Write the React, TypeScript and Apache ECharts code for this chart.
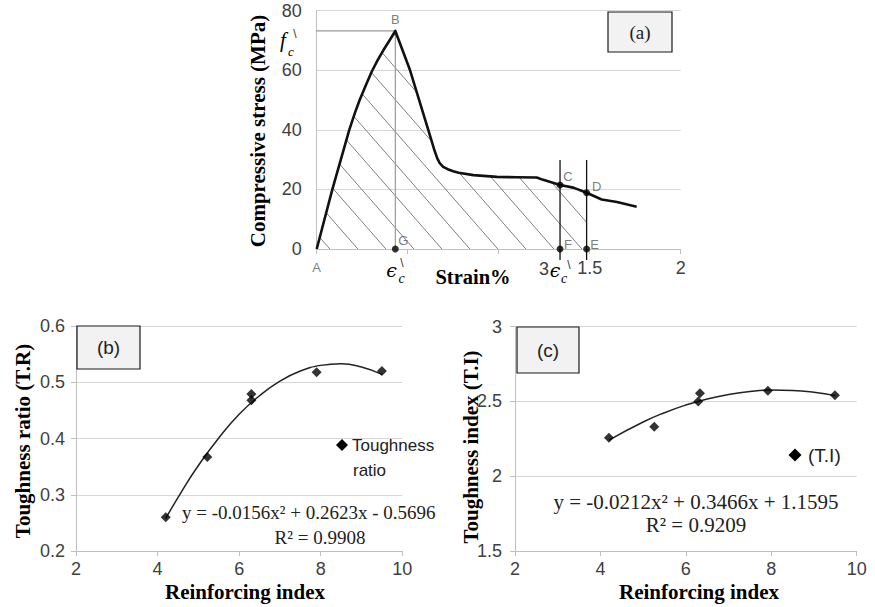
import React, { useEffect, useRef } from "react";
import * as echarts from "echarts";

// ---------- Panel (a): stress-strain curve ----------
const strainPts = [0, 0.086, 0.179, 0.21, 0.236, 0.27, 0.302, 0.335, 0.366, 0.4, 0.432, 0.513, 0.613, 0.645, 0.662, 0.676, 0.695, 0.72, 0.75, 0.78, 0.861, 0.99, 1.1, 1.209, 1.24, 1.337, 1.41, 1.483, 1.566, 1.65, 1.758];
const stressPts = [0, 20, 40, 45.7, 50, 55, 59.5, 63.4, 66.7, 70, 73.2, 60, 40, 33.5, 30.5, 28.8, 27.6, 26.8, 26.1, 25.6, 24.8, 24.2, 24.1, 24, 23.3, 21.5, 20.6, 18.9, 16.6, 15.8, 14.2];
const hatchEndStrain = 1.483;
const pointNames = ["G", "F", "E", "C", "D"];
const pointStrain = [0.432, 1.337, 1.483, 1.337, 1.483];
const pointStress = [0, 0, 0, 21.5, 18.9];
const peakStrain = 0.432;
const peakStress = 73.2;
const fcLineStartStrain = -0.064;
const guideLow = -3.7;
const guideHigh = 29.9;
const strainTickLabels = ["1.5", "2"];

// ---------- Panel (b): toughness ratio ----------
const riB = [4.2, 5.22, 6.3, 6.3, 7.9, 9.5];
const toughRatio = [0.26, 0.367, 0.479, 0.468, 0.518, 0.52];
const trendBX = [4.2, 4.6, 5, 5.5, 6, 6.5, 7, 7.5, 8, 8.5, 9, 9.5];
const trendBY = [0.258, 0.307, 0.352, 0.401, 0.443, 0.476, 0.502, 0.52, 0.53, 0.533, 0.527, 0.514];

// ---------- Panel (c): toughness index ----------
const riC = [4.2, 5.26, 6.33, 6.29, 7.92, 9.49];
const toughIndex = [2.258, 2.331, 2.555, 2.5, 2.572, 2.541];
const trendCX = [4.2, 5, 5.5, 6, 6.5, 7, 7.5, 8, 8.5, 9, 9.5];
const trendCY = [2.242, 2.363, 2.425, 2.476, 2.517, 2.547, 2.567, 2.576, 2.574, 2.562, 2.539];

const SANS = '"Liberation Sans", Arial, sans-serif';
const SERIF = '"Liberation Serif", "Times New Roman", serif';
const GRID = "#d6d6d6";
const AXIS = "#bfbfbf";
const TICK_TXT = "#404040";

function hatchPattern() {
  const w = 28;
  const h = 32;
  const cv = document.createElement("canvas");
  cv.width = w;
  cv.height = h;
  const ctx = cv.getContext("2d");
  if (ctx) {
    ctx.strokeStyle = "#808080";
    ctx.lineWidth = 1;
    for (const k of [-w, 0, w]) {
      ctx.beginPath();
      ctx.moveTo(k, 0);
      ctx.lineTo(k + w, h);
      ctx.stroke();
    }
  }
  return { image: cv, repeat: "repeat", imageWidth: w, imageHeight: h };
}

function txt(x: number, y: number, text: string, size: number, o: any = {}) {
  const align = o.align ?? "center";
  return {
    type: "text",
    x,
    y,
    rotation: o.rotation ?? 0,
    silent: true,
    z: 100,
    style: {
      text,
      fontSize: size,
      fontFamily: o.family ?? SERIF,
      fontWeight: o.weight ?? "normal",
      fontStyle: o.italic ? "italic" : "normal",
      fill: o.color ?? "#000",
      align,
      textAlign: align,
      verticalAlign: "middle",
      textVerticalAlign: "middle",
    },
  };
}

function box(x: number, y: number, w: number, h: number, label: string, family: string) {
  return [
    { type: "rect", shape: { x, y, width: w, height: h }, style: { fill: "#f2f2f2", stroke: "#1a1a1a", lineWidth: 1.2 }, z: 90 },
    txt(x + w / 2, y + h / 2, label, 19, { color: "#222", family }),
  ];
}

function diamond(cx: number, cy: number, r: number) {
  return {
    type: "polygon",
    shape: { points: [[cx, cy - r], [cx + r, cy], [cx, cy + r], [cx - r, cy]] },
    style: { fill: "#000" },
    z: 95,
  };
}

function valAxis(gridIndex: number, min: number, max: number, interval: number, extra: any = {}) {
  return {
    type: "value",
    gridIndex,
    min,
    max,
    interval,
    axisLine: { show: true, lineStyle: { color: AXIS, width: 1 } },
    axisTick: { show: true, length: 5, lineStyle: { color: AXIS } },
    splitLine: { show: false },
    axisLabel: { fontSize: 18, fontFamily: SANS, color: TICK_TXT, ...(extra.axisLabel || {}) },
    ...extra.rest,
  };
}

function buildOption() {
  const curve = strainPts.map((x, i) => [x, stressPts[i]]);
  const hatch = curve.filter((p) => p[0] <= hatchEndStrain);
  const line2 = (a: number[], b: number[], color: string, width: number) => ({
    type: "line",
    xAxisIndex: 0,
    yAxisIndex: 0,
    data: [a, b],
    symbol: "none",
    clip: false,
    silent: true,
    lineStyle: { color, width },
    z: 3,
  });
  const labelOffsets: Record<string, number[]> = {
    G: [8, -9],
    F: [8, -5],
    E: [8, -5],
    C: [8, -8],
    D: [10, -6],
  };
  const letterLabel = (text: string, offset: number[]) => ({
    show: true,
    formatter: text,
    position: "inside",
    offset,
    fontSize: 13,
    fontFamily: SANS,
    color: "#595959",
  });
  const trPts = riB.map((x, i) => [x, toughRatio[i]]);
  const tiPts = riC.map((x, i) => [x, toughIndex[i]]);

  return {
    animation: false,
    backgroundColor: "#fff",
    grid: [
      { left: 316.7, top: 10.7, width: 364, height: 238.3, outerBoundsMode: "none" },
      { left: 76, top: 326, width: 326.3, height: 225, outerBoundsMode: "none" },
      { left: 515, top: 326.7, width: 341.7, height: 224.3, outerBoundsMode: "none" },
    ],
    xAxis: [
      valAxis(0, 0, 2, 0.5, {
        axisLabel: {
          margin: 10,
          formatter: (v: number) => (strainTickLabels.includes(String(v)) ? String(v) : ""),
        },
      }),
      valAxis(1, 2, 10, 2, { axisLabel: { margin: 9 } }),
      valAxis(2, 2, 10, 2, { axisLabel: { margin: 9 } }),
    ],
    yAxis: [
      valAxis(0, 0, 80, 20, {
        axisLabel: { margin: 15 },
        rest: { splitLine: { show: true, lineStyle: { color: GRID, width: 1.2 } }, axisTick: { show: false } },
      }),
      valAxis(1, 0.2, 0.6, 0.1, {
        axisLabel: { margin: 11, formatter: (v: number) => v.toFixed(1) },
        rest: { splitLine: { show: true, lineStyle: { color: GRID, width: 1.2 } } },
      }),
      valAxis(2, 1.5, 3, 0.5, {
        axisLabel: { margin: 13 },
        rest: { splitLine: { show: true, lineStyle: { color: GRID, width: 1.2 } } },
      }),
    ],
    series: [
      {
        name: "hatch",
        type: "line",
        xAxisIndex: 0,
        yAxisIndex: 0,
        data: hatch,
        symbol: "none",
        lineStyle: { width: 0, opacity: 0 },
        areaStyle: { color: hatchPattern(), opacity: 1 },
        silent: true,
        z: 1,
      },
      line2([peakStrain, 0], [peakStrain, peakStress], "#9a9a9a", 1.2),
      line2([fcLineStartStrain, peakStress], [peakStrain, peakStress], "#9a9a9a", 1.2),
      line2([pointStrain[1], guideLow], [pointStrain[1], guideHigh], "#111", 1.3),
      line2([pointStrain[2], guideLow], [pointStrain[2], guideHigh], "#111", 1.3),
      {
        name: "Compressive stress",
        type: "line",
        xAxisIndex: 0,
        yAxisIndex: 0,
        data: curve,
        symbol: "none",
        lineStyle: { color: "#111", width: 2.6, join: "round" },
        z: 5,
      },
      {
        name: "points",
        type: "scatter",
        xAxisIndex: 0,
        yAxisIndex: 0,
        symbolSize: 7,
        itemStyle: { color: "#000" },
        z: 6,
        data: pointNames.map((n, i) => ({
          name: n,
          value: [pointStrain[i], pointStress[i]],
          label: letterLabel(n, labelOffsets[n]),
        })),
      },
      {
        name: "pointLabels",
        type: "scatter",
        xAxisIndex: 0,
        yAxisIndex: 0,
        symbolSize: 1,
        itemStyle: { color: "transparent" },
        z: 6,
        data: [
          { name: "A", value: [0, 0], label: letterLabel("A", [0, 18]) },
          { name: "B", value: [peakStrain, peakStress], label: letterLabel("B", [0, -11]) },
        ],
      },
      // Panel (b)
      {
        name: "Toughness ratio trend",
        type: "line",
        xAxisIndex: 1,
        yAxisIndex: 1,
        data: trendBX.map((x, i) => [x, trendBY[i]]),
        smooth: true,
        symbol: "none",
        lineStyle: { color: "#222", width: 1.5 },
        z: 3,
      },
      {
        name: "Toughness ratio",
        type: "scatter",
        xAxisIndex: 1,
        yAxisIndex: 1,
        data: trPts,
        symbol: "diamond",
        symbolSize: 10,
        itemStyle: { color: "#000" },
        z: 4,
      },
      // Panel (c)
      {
        name: "Toughness index trend",
        type: "line",
        xAxisIndex: 2,
        yAxisIndex: 2,
        data: trendCX.map((x, i) => [x, trendCY[i]]),
        smooth: true,
        symbol: "none",
        lineStyle: { color: "#222", width: 1.5 },
        z: 3,
      },
      {
        name: "(T.I)",
        type: "scatter",
        xAxisIndex: 2,
        yAxisIndex: 2,
        data: tiPts,
        symbol: "diamond",
        symbolSize: 10,
        itemStyle: { color: "#000" },
        z: 4,
      },
    ],
    graphic: [
      // axis titles
      txt(258, 131, "Compressive stress (MPa)", 21, { weight: "bold", rotation: Math.PI / 2 }),
      txt(473, 277, "Strain%", 20.5, { weight: "bold" }),
      txt(22.5, 441, "Toughness ratio (T.R)", 21, { weight: "bold", rotation: Math.PI / 2 }),
      txt(245, 592, "Reinforcing index", 21, { weight: "bold" }),
      txt(470.7, 447, "Toughness index (T.I)", 21, { weight: "bold", rotation: Math.PI / 2 }),
      txt(699, 592, "Reinforcing index", 21, { weight: "bold" }),
      // panel boxes
      ...box(608, 12, 64, 40, "(a)", SERIF),
      ...box(77, 326, 63, 43, "(b)", SANS),
      ...box(517, 327, 62, 46, "(c)", SANS),
      // (a) symbolic labels
      txt(283, 40, "f", 21, { italic: true }),
      txt(291, 51, "c", 13, { italic: true }),
      txt(295, 34, "\\", 12, { family: SANS, color: "#333" }),
      txt(391.5, 270, "ϵ", 19, { italic: true, family: '"DejaVu Serif", serif' }),
      txt(401.5, 278, "c", 14, { italic: true }),
      txt(402, 263, "\\", 12, { family: SANS, color: "#333" }),
      txt(544, 269, "3", 18, { family: SANS, color: TICK_TXT }),
      txt(555, 270, "ϵ", 19, { italic: true, family: '"DejaVu Serif", serif' }),
      txt(564, 278, "c", 14, { italic: true }),
      txt(569, 265, "\\", 12, { family: SANS, color: "#333" }),
      // (b) legend + equation
      diamond(342, 445, 6),
      txt(352, 445, "Toughness", 17, { family: SANS, align: "left", color: "#222" }),
      txt(353, 470, "ratio", 17, { family: SANS, align: "left", color: "#222" }),
      txt(182, 512, "y = -0.0156x² + 0.2623x - 0.5696", 19, { align: "left", color: "#222" }),
      txt(320, 537, "R² = 0.9908", 19, { color: "#222" }),
      // (c) legend + equation
      diamond(795, 455, 6.5),
      txt(808, 455, "(T.I)", 19, { family: SANS, align: "left", color: "#222" }),
      txt(696, 502, "y = -0.0212x² + 0.3466x + 1.1595", 21, { color: "#222" }),
      txt(696, 525, "R² = 0.9209", 21, { color: "#222" }),
    ],
  };
}

export default function App() {
  const ref = useRef<HTMLDivElement>(null);
  useEffect(() => {
    if (!ref.current) return;
    const chart = echarts.init(ref.current, null, { renderer: "svg" });
    chart.setOption(buildOption() as any);
    return () => chart.dispose();
  }, []);
  return (
    <div
      ref={ref}
      style={{ position: "fixed", left: 0, top: 0, width: 875, height: 607, background: "#fff" }}
    />
  );
}
